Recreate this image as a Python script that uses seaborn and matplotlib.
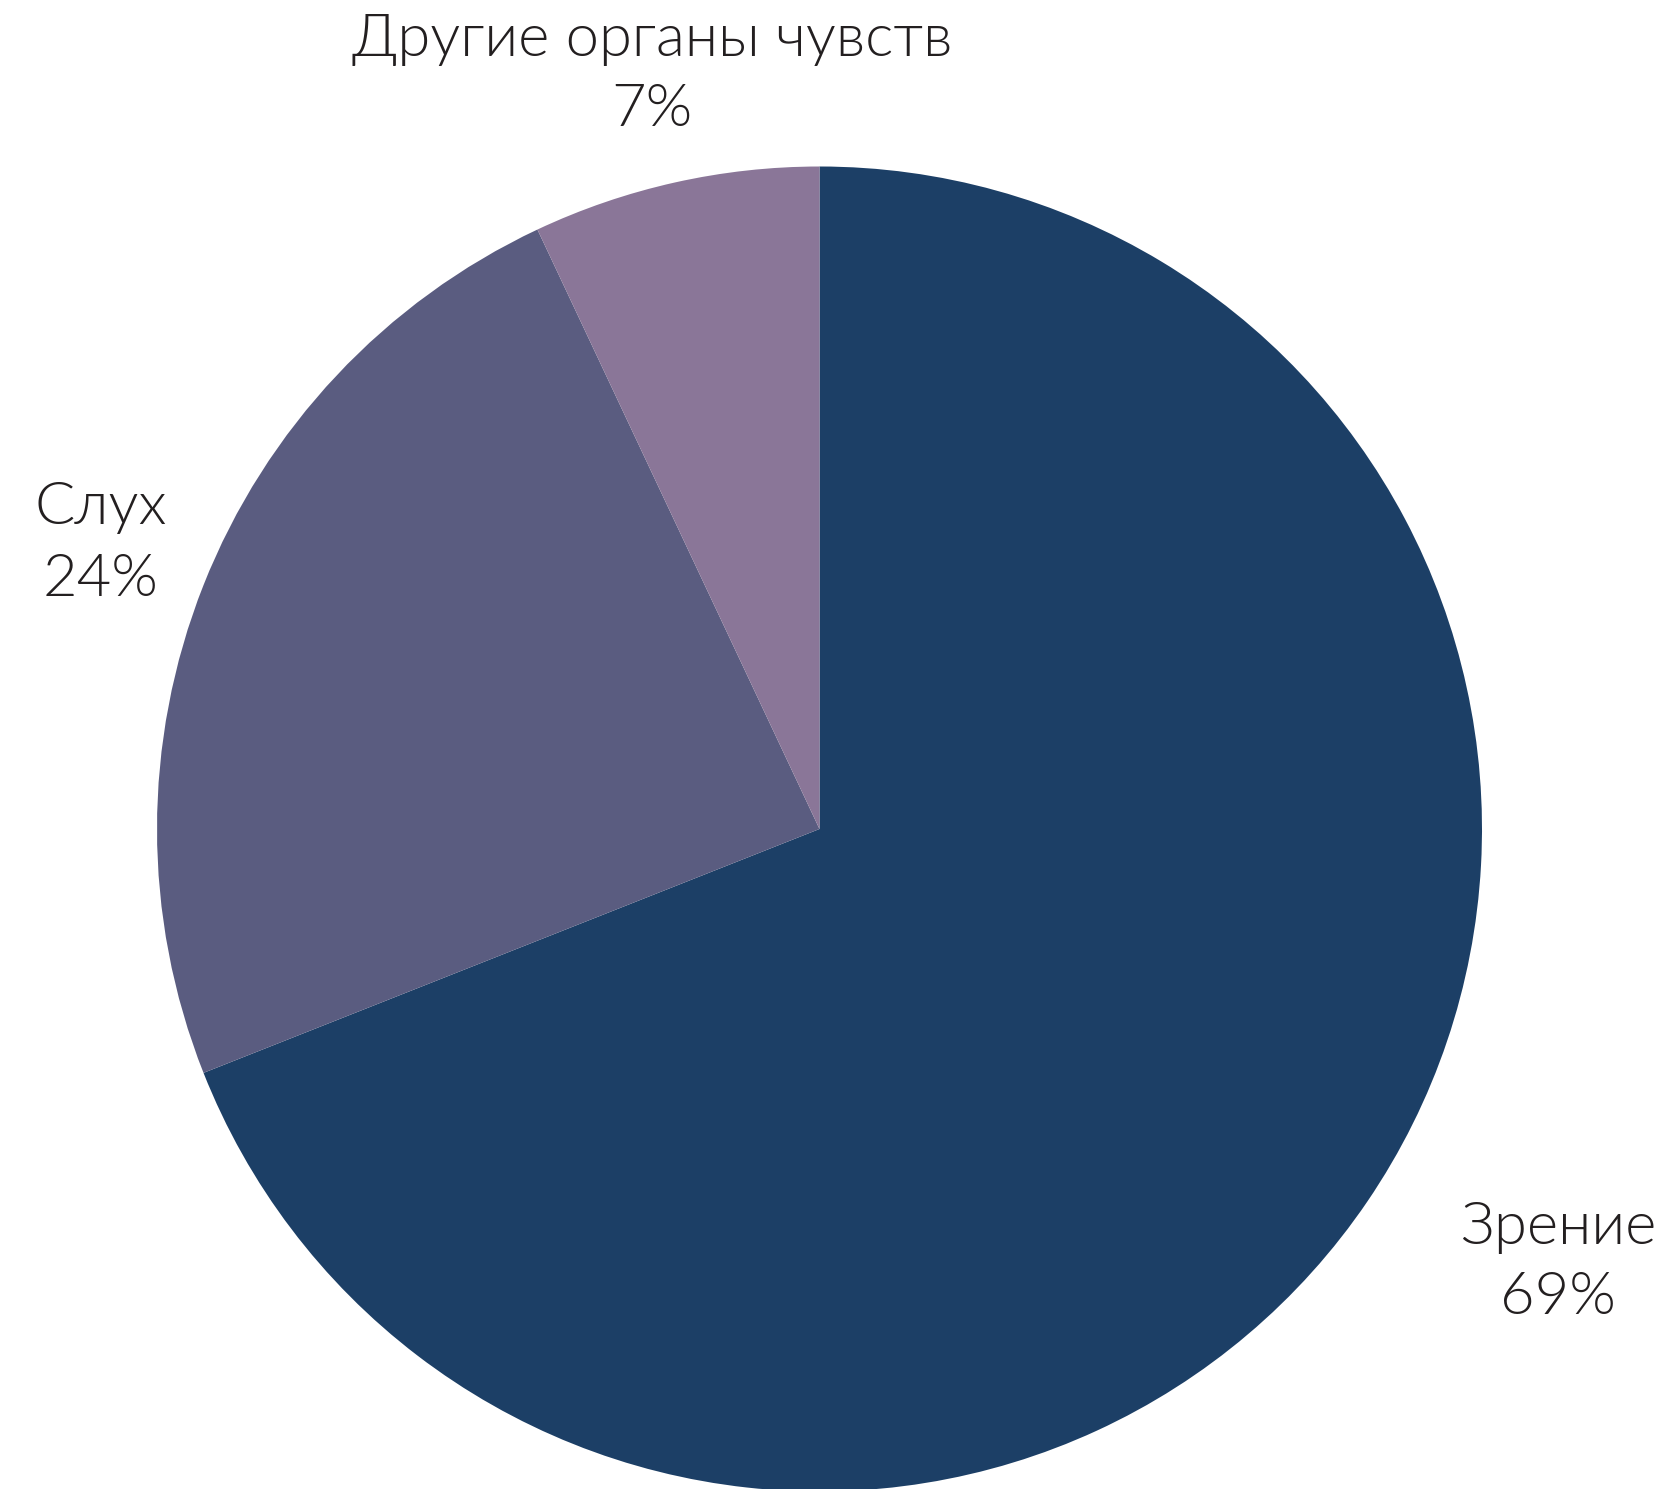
import matplotlib
matplotlib.use("Agg")
import matplotlib.pyplot as plt
import seaborn as sns

# Data
labels = ["Зрение", "Слух", "Другие органы чувств"]
shares = [69, 24, 7]
colors = ["#1c3f66", "#5a5c80", "#8a7698"]

# label anchors (pixel coords, y from top) for name line and percent line
label_x = [1558, 101, 652]
name_y = [1227, 508, 40]
pct_y = [1298, 579, 109]

sns.set_theme(style="white")
plt.rcParams["font.family"] = ["Lato", "DejaVu Sans"]

W, H = 1671, 1489
fig = plt.figure(figsize=(W / 100, H / 100), dpi=100)
ax = fig.add_axes([0, 0, 1, 1])

# Pie: start at 12 o'clock, clockwise
ax.pie(shares, colors=colors, startangle=90, counterclock=False,
       center=(819.5, H - 829), radius=662.5, frame=True,
       wedgeprops=dict(linewidth=0))
ax.set_xlim(0, W)
ax.set_ylim(0, H)
ax.set_aspect("equal")
ax.axis("off")

for name, val, x, yn, yp in zip(labels, shares, label_x, name_y, pct_y):
    ax.text(x, H - yn, name, ha="center", va="center", fontsize=43,
            fontweight=300, color="#231f20")
    ax.text(x, H - yp, f"{val}%", ha="center", va="center", fontsize=43,
            fontweight=300, color="#231f20")

fig.savefig("out.png", dpi=100, facecolor="white")
